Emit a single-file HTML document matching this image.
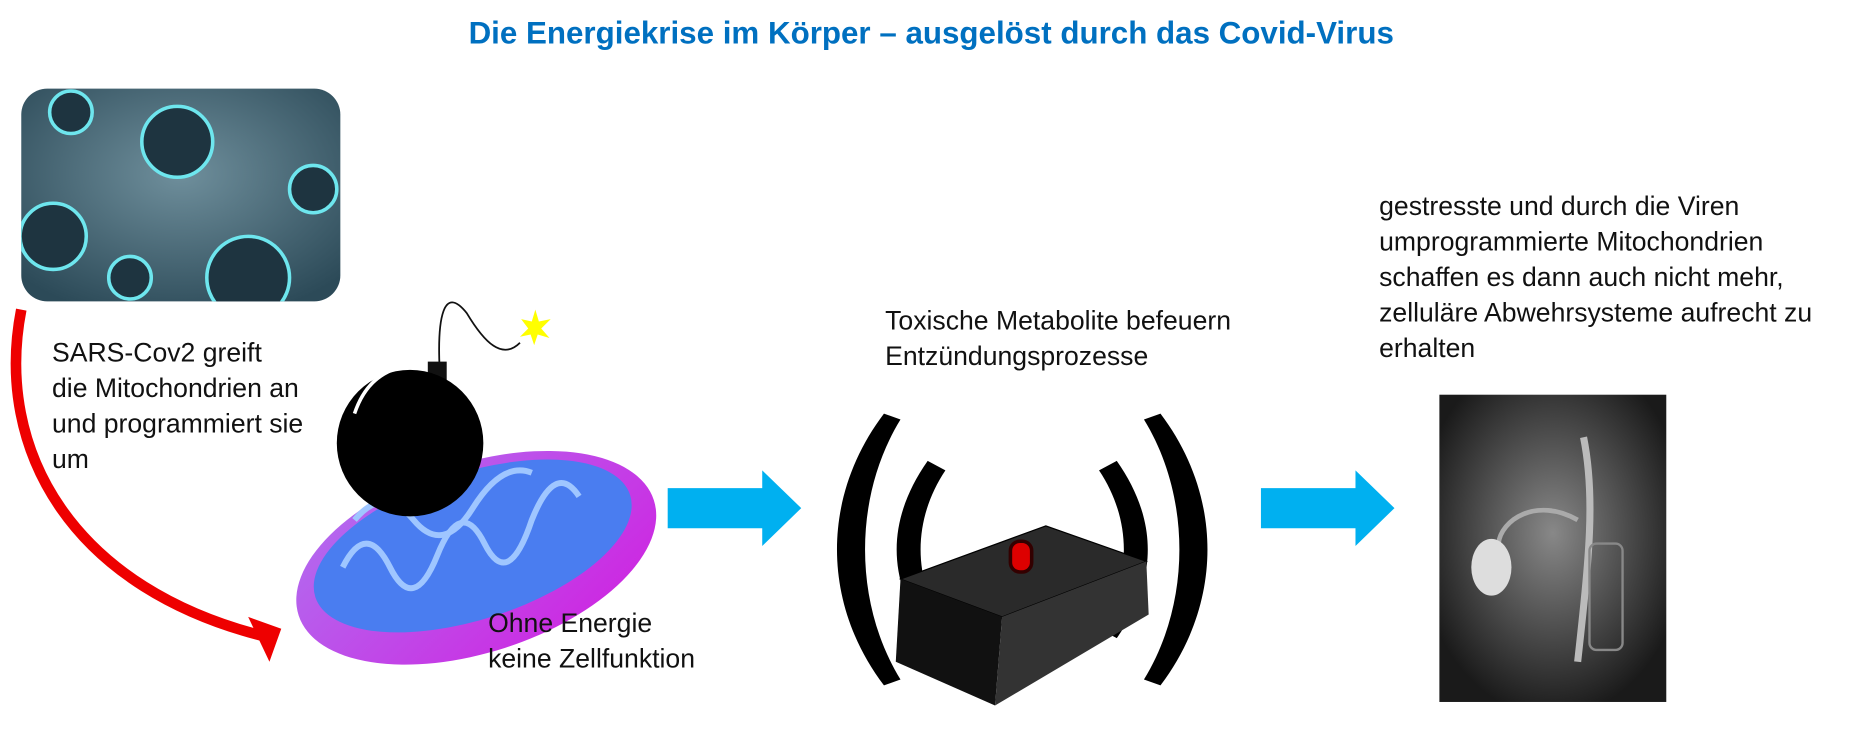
<!DOCTYPE html>
<html><head><meta charset="utf-8"><style>
html,body{margin:0;padding:0;background:#fff;overflow:hidden}
#w{width:1568px;height:636px;position:relative;transform:scale(1.18176);transform-origin:0 0;font-family:"Liberation Sans",sans-serif}
.t{position:absolute;font-size:22.5px;line-height:30px;color:#111;white-space:nowrap}
</style></head><body><div id="w">
<div style="position:absolute;left:0;width:1576px;top:13px;text-align:center;color:#0070c0;font-weight:bold;font-size:26.5px">Die Energiekrise im Körper – ausgelöst durch das Covid-Virus</div>
<svg width="1568" height="636" style="position:absolute;left:0;top:0">
<defs>
<radialGradient id="vg" cx="50%" cy="40%" r="70%"><stop offset="0" stop-color="#6f8f9c"/><stop offset="1" stop-color="#2c4a58"/></radialGradient>
<radialGradient id="pg" cx="50%" cy="45%" r="60%"><stop offset="0" stop-color="#888"/><stop offset="1" stop-color="#1a1a1a"/></radialGradient>
<linearGradient id="mg" x1="0" y1="0" x2="1" y2="1"><stop offset="0" stop-color="#b070f0"/><stop offset="1" stop-color="#d020e0"/></linearGradient>
<clipPath id="vc"><rect x="18" y="75" width="270" height="180" rx="22"/></clipPath>
</defs>
<rect x="18" y="75" width="270" height="180" rx="22" fill="url(#vg)"/>
<g fill="#1e3440" stroke="#6ee6ee" stroke-width="3" clip-path="url(#vc)">
<circle cx="150" cy="120" r="30"/><circle cx="45" cy="200" r="28"/><circle cx="210" cy="235" r="35"/><circle cx="60" cy="95" r="18"/><circle cx="265" cy="160" r="20"/><circle cx="110" cy="235" r="18"/>
</g>
<path d="M18 262 C-5 380 60 500 230 540" fill="none" stroke="#e00" stroke-width="9"/>
<polygon points="210,522 238,532 228,560" fill="#e00"/>
<ellipse cx="403" cy="472" rx="158" ry="80" transform="rotate(-18 403 472)" fill="url(#mg)"/>
<ellipse cx="400" cy="462" rx="140" ry="62" transform="rotate(-18 400 462)" fill="#4a7df0"/>
<g fill="none" stroke="#9fc6ff" stroke-width="5">
<path d="M290 480 q20 -40 40 0 q20 40 40 -10 q20 -50 40 -10 q20 40 40 -20 q20 -50 40 -20"/>
<path d="M300 440 q25 -30 50 0 q25 30 50 -10 q25 -40 50 -30"/>
</g>
<path d="M372 312 C370 270 375 240 395 265 C410 290 425 305 440 290" fill="none" stroke="#111" stroke-width="1.5"/>
<polygon points="453,262 456,272 466,270 458,278 465,286 455,283 452,292 449,283 440,285 447,278 441,270 450,272" fill="#ff0"/>
<rect x="362" y="306" width="16" height="18" fill="#111"/>
<circle cx="347" cy="375" r="62" fill="#000"/>
<path d="M300 350 q10 -30 35 -38" stroke="#fff" stroke-width="3" fill="none"/>
<polygon points="565,413 645,413 645,398 678,430 645,462 645,447 565,447" fill="#00b0f0"/>
<polygon points="1067,413 1147,413 1147,398 1180,430 1147,462 1147,447 1067,447" fill="#00b0f0"/>
<g fill="#000">
<path d="M748 350 C695 420 695 510 748 580 L762 575 C722 510 722 420 762 355Z"/>
<path d="M785 390 C750 440 750 490 785 540 L800 532 C772 490 772 440 800 398Z"/>
<path d="M982 350 C1035 420 1035 510 982 580 L968 575 C1008 510 1008 420 968 355Z"/>
<path d="M945 390 C980 440 980 490 945 540 L930 532 C958 490 958 440 930 398Z"/>
</g>
<polygon points="762,490 885,445 970,475 848,522" fill="#2a2a2a" stroke="#000"/>
<polygon points="762,490 848,522 842,597 758,560" fill="#111"/>
<polygon points="848,522 970,475 972,520 842,597" fill="#333"/>
<rect x="855" y="458" width="18" height="26" rx="8" fill="#d00" stroke="#300" stroke-width="3"/>
<rect x="1218" y="334" width="192" height="260" fill="url(#pg)"/>
<path d="M1340 370 C1350 420 1345 470 1335 560" stroke="#bbb" stroke-width="6" fill="none"/>
<path d="M1335 440 C1300 420 1270 440 1268 460" stroke="#aaa" stroke-width="4" fill="none"/>
<ellipse cx="1262" cy="480" rx="17" ry="24" fill="#ddd"/>
<rect x="1345" y="460" width="28" height="90" rx="6" fill="none" stroke="#888" stroke-width="2"/>
</svg>
<div class="t" style="left:44px;top:284px">SARS-Cov2 greift<br>die Mitochondrien an<br>und programmiert sie<br>um</div>
<div class="t" style="left:413px;top:513px">Ohne Energie<br>keine Zellfunktion</div>
<div class="t" style="left:749px;top:257px">Toxische Metabolite befeuern<br>Entzündungsprozesse</div>
<div class="t" style="left:1167px;top:160px">gestresste und durch die Viren<br>umprogrammierte Mitochondrien<br>schaffen es dann auch nicht mehr,<br>zelluläre Abwehrsysteme aufrecht zu<br>erhalten</div>
</div></body></html>
